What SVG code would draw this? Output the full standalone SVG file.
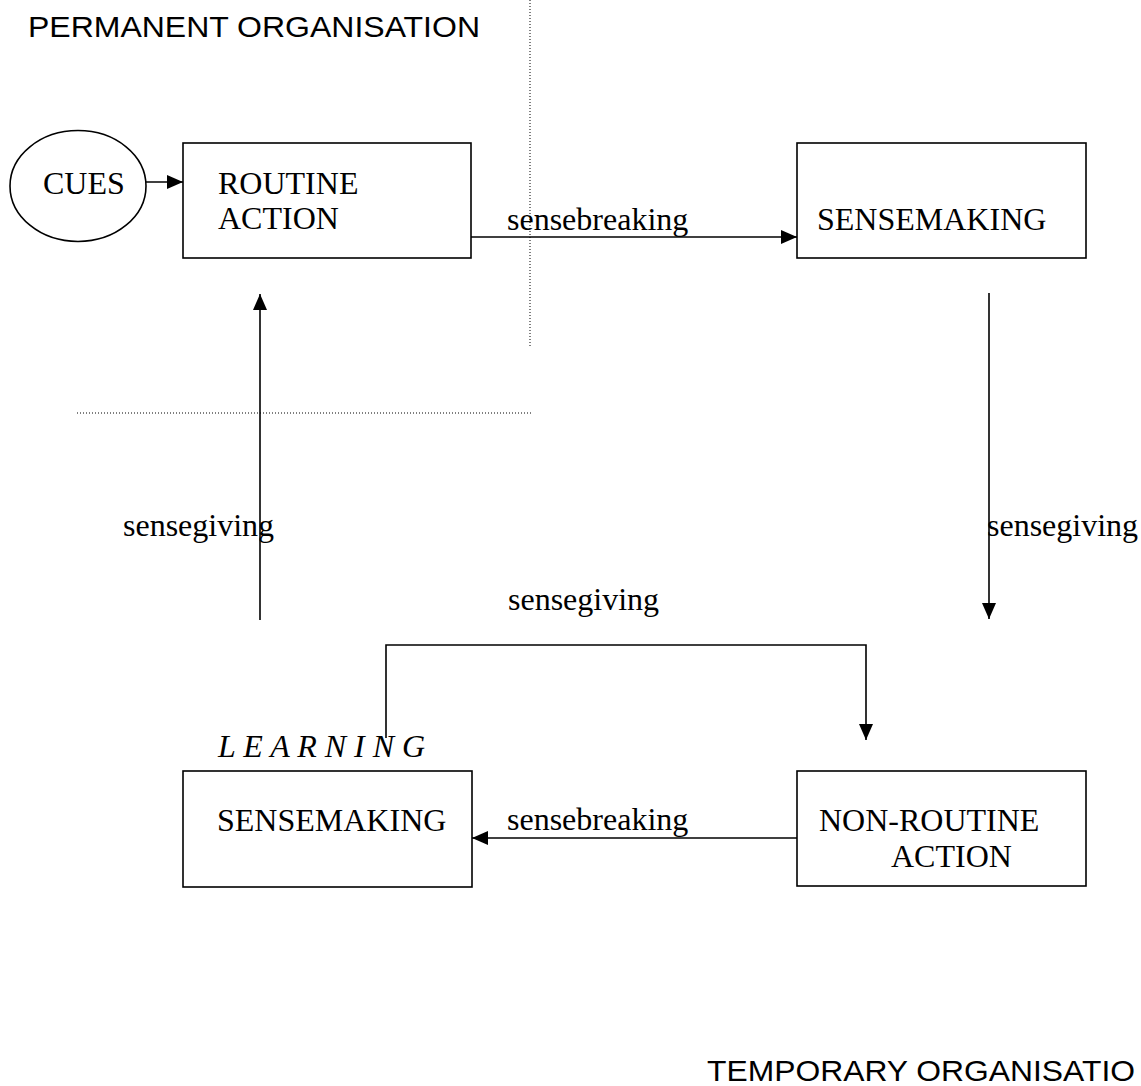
<svg xmlns="http://www.w3.org/2000/svg" width="1141" height="1086" viewBox="0 0 1141 1086">
  <defs>
    <marker id="arrow" markerWidth="16" markerHeight="14" refX="16" refY="7" orient="auto" markerUnits="userSpaceOnUse">
      <path d="M0,0 L16,7 L0,14 z" fill="#000"/>
    </marker>
  </defs>
  <style>
    .box { fill: #fff; stroke: #000; stroke-width: 1.6; }
    .conn { fill: none; stroke: #000; stroke-width: 1.6; }
    .dot { fill: none; stroke: #000; stroke-width: 1; stroke-dasharray: 1 2; }
    .t { font-family: "Liberation Serif", "Times New Roman", serif; font-size: 32px; fill: #000; }
    .it { font-family: "Liberation Serif", "Times New Roman", serif; font-size: 32px; font-style: italic; fill: #000; }
    .h { font-family: "Liberation Sans", Arial, sans-serif; font-size: 30px; fill: #000; }
  </style>
  <rect width="1141" height="1086" fill="#fff"/>

  <g id="zone-labels">
    <text class="h" x="28" y="37" textLength="452" lengthAdjust="spacingAndGlyphs">PERMANENT ORGANISATION</text>
    <text class="h" x="707" y="1081" textLength="428" lengthAdjust="spacingAndGlyphs">TEMPORARY ORGANISATIO</text>
  </g>

  <g id="dividers">
    <line class="dot" x1="530" y1="0" x2="530" y2="347"/>
    <line class="dot" x1="77" y1="413" x2="532" y2="413"/>
  </g>

  <g id="connectors">
    <line class="conn" x1="146" y1="182" x2="183" y2="182" marker-end="url(#arrow)"/>
    <line class="conn" x1="471" y1="237" x2="797" y2="237" marker-end="url(#arrow)"/>
    <line class="conn" x1="989" y1="293" x2="989" y2="619" marker-end="url(#arrow)"/>
    <path class="conn" d="M386,738 V645 H866 V740" marker-end="url(#arrow)"/>
    <line class="conn" x1="797" y1="838" x2="472" y2="838" marker-end="url(#arrow)"/>
    <line class="conn" x1="260" y1="620" x2="260" y2="294" marker-end="url(#arrow)"/>
  </g>

  <g id="connector-labels">
    <text class="t" x="507" y="230">sensebreaking</text>
    <text class="t" x="987" y="536">sensegiving</text>
    <text class="t" x="123" y="536">sensegiving</text>
    <text class="t" x="508" y="610">sensegiving</text>
    <text class="t" x="507" y="830">sensebreaking</text>
  </g>

  <g id="cues">
    <ellipse class="box" cx="78" cy="186" rx="68" ry="55.5"/>
    <text class="t" x="43" y="194">CUES</text>
  </g>

  <g id="routine-action">
    <rect class="box" x="183" y="143" width="288" height="115"/>
    <text class="t" x="218" y="194">ROUTINE</text>
    <text class="t" x="218" y="229">ACTION</text>
  </g>

  <g id="sensemaking-top">
    <rect class="box" x="797" y="143" width="289" height="115"/>
    <text class="t" x="817" y="230">SENSEMAKING</text>
  </g>

  <g id="sensemaking-learning">
    <text class="it" x="218" y="757">L E A R N I N G</text>
    <rect class="box" x="183" y="771" width="289" height="116"/>
    <text class="t" x="217" y="831">SENSEMAKING</text>
  </g>

  <g id="non-routine-action">
    <rect class="box" x="797" y="771" width="289" height="115"/>
    <text class="t" x="819" y="831">NON-ROUTINE</text>
    <text class="t" x="891" y="867">ACTION</text>
  </g>
</svg>
